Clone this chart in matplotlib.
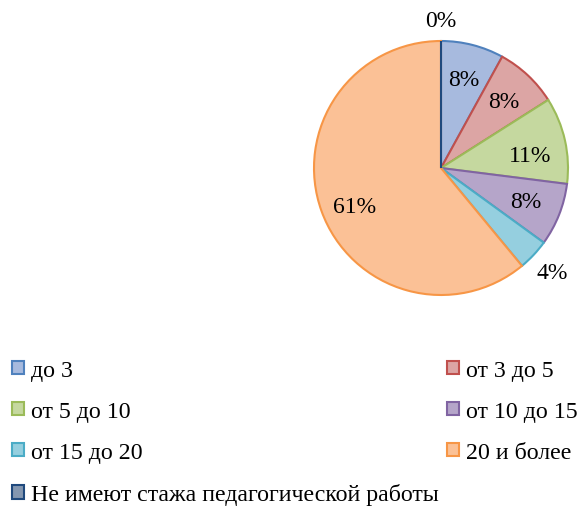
import numpy as np
import matplotlib.pyplot as plt

plt.rcParams['font.family'] = ['Liberation Serif', 'DejaVu Serif']

# experience groups, share of teachers (%)
labels = ['до 3', 'от 3 до 5', 'от 5 до 10', 'от 10 до 15',
          'от 15 до 20', '20 и более', 'Не имеют стажа педагогической работы']
values = [8, 8, 11, 8, 4, 61, 0]

fills = ['#a7bade', '#dca5a4', '#c5d89f', '#b5a5c9', '#95cfdf', '#fbc196', '#8497b0']
edges = ['#4f81bd', '#c0504d', '#9bbb59', '#8064a2', '#4bacc6', '#f79646', '#1f497d']

fig = plt.figure(figsize=(5.82, 5.10), dpi=100)
ax = fig.add_axes([314 / 582, 1 - 296 / 510, 254 / 582, 254 / 510])

wedges, texts, autotexts = ax.pie(
    values, colors=fills, startangle=90, counterclock=False, radius=1,
    autopct='%d%%', pctdistance=0.72,
    wedgeprops=dict(linewidth=1.5), textprops=dict(fontsize=17, color='black'))
for w, ec in zip(wedges, edges):
    w.set_edgecolor(ec)

# small slices get their label outside the pie
for i, r in [(4, 1.2), (6, 1.16)]:
    w = wedges[i]
    ang = np.deg2rad((w.theta1 + w.theta2) / 2)
    autotexts[i].set_position((r * np.cos(ang), r * np.sin(ang)))
# nudge a couple of inner labels down a little
for i in (2, 5):
    x, y = autotexts[i].get_position()
    autotexts[i].set_position((x, y - 0.06))
ax.set_xlim(-1, 1)
ax.set_ylim(-1, 1)
ax.set_aspect('equal')

# legend in two columns, row-major like the original
kw = dict(frameon=False, fontsize=17.2, loc='upper left', borderpad=0, borderaxespad=0,
          handlelength=0.5, handleheight=0.5, handletextpad=0.3, labelspacing=0.84)
left = [0, 2, 4, 6]
right = [1, 3, 5]
fig.legend([wedges[i] for i in left], [labels[i] for i in left],
           bbox_to_anchor=(12 / 582, 1 - 361 / 510), **kw)
fig.legend([wedges[i] for i in right], [labels[i] for i in right],
           bbox_to_anchor=(447 / 582, 1 - 361 / 510), **kw)

fig.savefig('out.png', dpi=100)
